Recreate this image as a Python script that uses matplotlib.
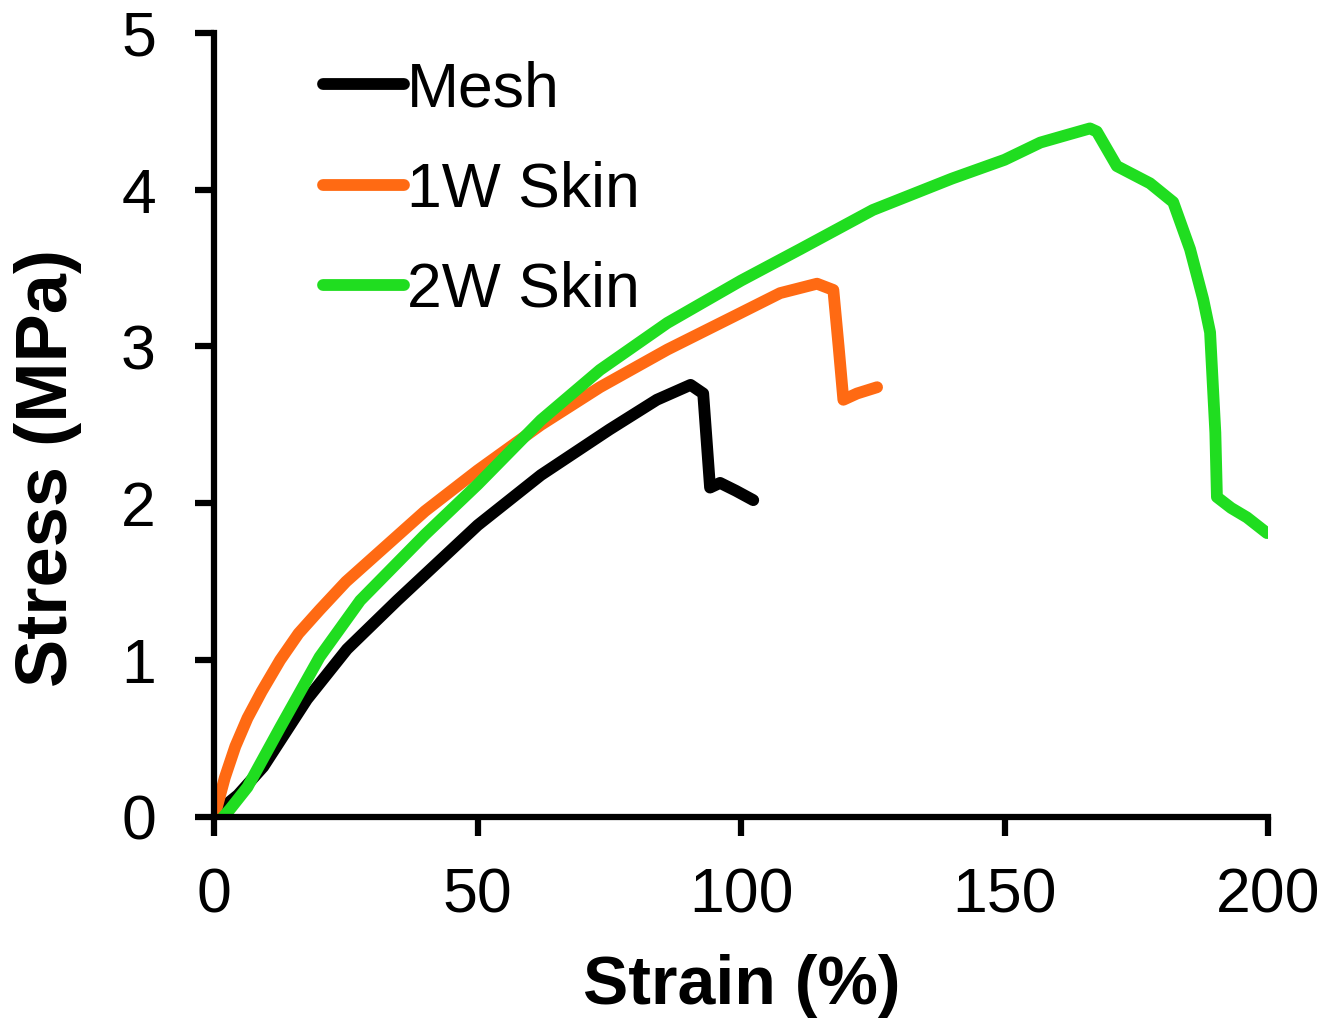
import matplotlib
matplotlib.use("Agg")
import matplotlib.pyplot as plt

plt.rcParams['font.family'] = ['Liberation Sans', 'DejaVu Sans']

# Stress-strain curves
mesh_strain = [0, 0.5, 4.5, 9.3, 17.6, 25.2, 34.7, 50, 62, 75, 84, 90.4, 92.8, 94.1, 96, 99, 102.3]
mesh_stress = [0, 0.03, 0.14, 0.32, 0.75, 1.07, 1.38, 1.86, 2.18, 2.47, 2.66, 2.755, 2.70, 2.10, 2.13, 2.08, 2.02]

skin1w_strain = [0, 2, 4, 6.3, 9, 12.5, 16, 20, 25, 30, 40, 50, 62, 73.2, 86, 98.5, 107.4, 114.4, 117.5, 118.5, 119.4, 122, 125.8]
skin1w_stress = [0, 0.25, 0.45, 0.63, 0.80, 1.0, 1.17, 1.32, 1.50, 1.65, 1.95, 2.21, 2.50, 2.74, 2.98, 3.19, 3.34, 3.40, 3.36, 3.0, 2.66, 2.70, 2.74]

skin2w_strain = [1.7, 3, 6.3, 12.5, 20, 27.7, 40, 50, 62, 73.2, 86, 100, 111.2, 125, 140, 150, 156.8, 162, 166.2, 167.5,
                 171.3, 177.6, 182, 185.2, 187.7, 189, 190, 190.3, 193, 196, 199.8]
skin2w_stress = [0, 0.05, 0.19, 0.57, 1.02, 1.38, 1.80, 2.12, 2.53, 2.85, 3.15, 3.42, 3.62, 3.87, 4.07, 4.19, 4.30, 4.35, 4.39, 4.37,
                 4.15, 4.04, 3.92, 3.62, 3.30, 3.09, 2.45, 2.04, 1.97, 1.91, 1.81]

fig = plt.figure(figsize=(13.39, 10.36), dpi=100)
ax = fig.add_axes([0.16, 0.2114, 0.787, 0.757])

lw = 8.5
style = dict(lw=lw, solid_capstyle='round', solid_joinstyle='round')
ax.plot(mesh_strain, mesh_stress, color='black', label='Mesh', **style)
ax.plot(skin1w_strain, skin1w_stress, color='#ff6a13', label='1W Skin', **style)
ax.plot(skin2w_strain, skin2w_stress, color='#20dd20', label='2W Skin', **style)

ax.set_xlim(0, 200)
ax.set_ylim(0, 5)
ax.set_xticks([0, 50, 100, 150, 200])
ax.set_yticks([0, 1, 2, 3, 4, 5])

for s in ['top', 'right']:
    ax.spines[s].set_visible(False)
for s in ['left', 'bottom']:
    ax.spines[s].set_linewidth(4.5)

ax.tick_params(axis='both', direction='out', length=14, width=4.5, labelsize=45)
ax.tick_params(axis='x', pad=22)
ax.tick_params(axis='y', pad=28)

ax.set_xlabel('Strain (%)', fontsize=49, fontweight='bold', va='center')
ax.xaxis.set_label_coords(0.501, -0.216)
ax.set_ylabel('Stress (MPa)', fontsize=52, fontweight='bold', va='center')
ax.yaxis.set_label_coords(-0.158, 0.445)

leg = ax.legend(loc='upper left', bbox_to_anchor=(0.103, 0.965), frameon=False, fontsize=45,
                handlelength=1.3, handletextpad=0.05, labelspacing=0.66, borderaxespad=0, borderpad=0)
for h in leg.get_lines():
    h.set_linewidth(lw)

fig.savefig('out.png', dpi=100, facecolor='white')
